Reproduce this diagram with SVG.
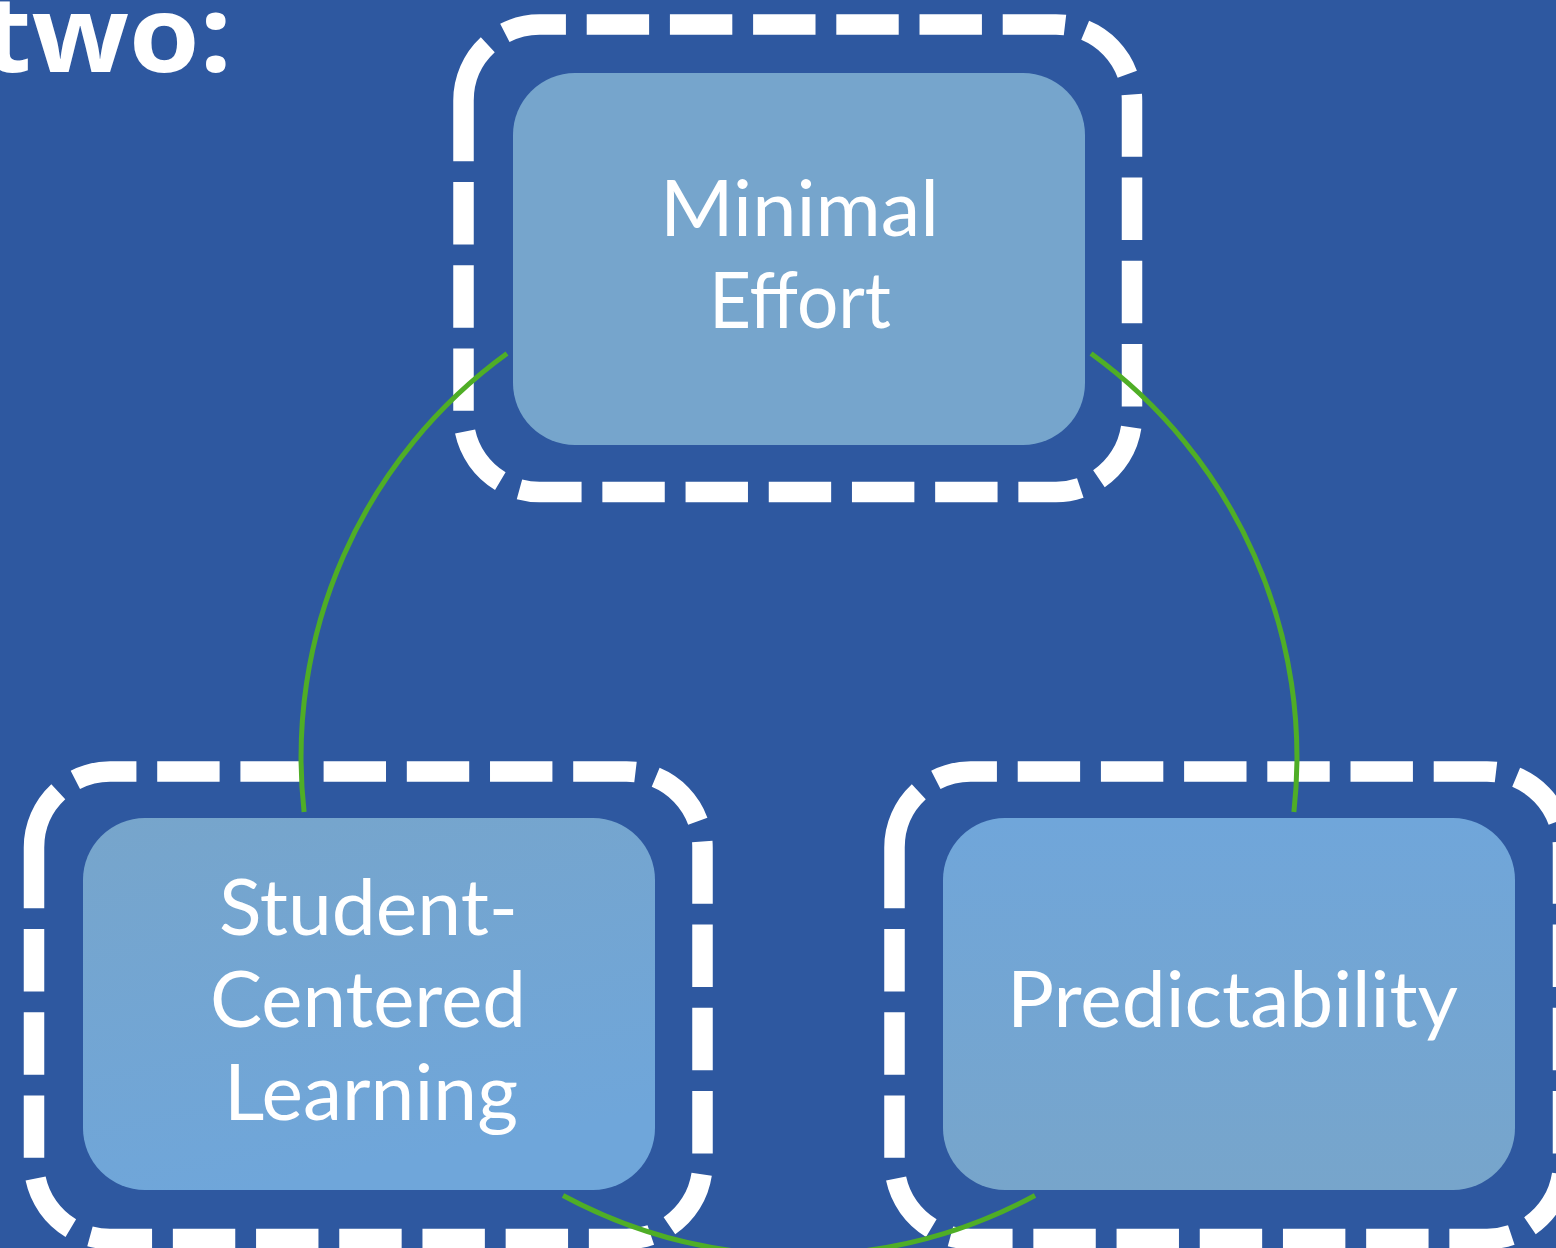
<svg xmlns="http://www.w3.org/2000/svg" width="1556" height="1248" viewBox="0 0 1556 1248">
  <defs>
    <linearGradient id="gStudent" x1="0" y1="0" x2="0.3" y2="1">
      <stop offset="0" stop-color="#77A5CB"/>
      <stop offset="1" stop-color="#6FA6DA"/>
    </linearGradient>
    <linearGradient id="gPred" x1="0" y1="0" x2="0" y2="1">
      <stop offset="0" stop-color="#70A6DA"/>
      <stop offset="1" stop-color="#77A5CB"/>
    </linearGradient>
  </defs>
  <style>
    .frame { fill: none; stroke: #FFFFFF; stroke-width: 20.5; stroke-dasharray: 62.4 20.8; stroke-linecap: butt; }
    .box { stroke: none; }
    .lbl { font-family: Lato, "Open Sans", "Liberation Sans", sans-serif; font-size: 78px; fill: #FFFFFF; text-anchor: middle; }
    .arc { fill: none; stroke: #4FAE26; stroke-width: 5; }
    .title { font-family: "Open Sans", "Liberation Sans", sans-serif; font-weight: 700; font-size: 106px; fill: #FFFFFF; }
  </style>
  <rect x="0" y="0" width="1556" height="1248" fill="#2E58A0"/>
  <text class="title" x="-18" y="72" textLength="250" lengthAdjust="spacingAndGlyphs">two:</text>

  <g id="frames">
    <path class="frame" d="M463.5,100.5 A76,76 0 0 1 539.5,24.5 H1056 A76,76 0 0 1 1132,100.5 V416 A76,76 0 0 1 1056,492 H539.5 A76,76 0 0 1 463.5,416 Z"/>
    <path class="frame" d="M34,847.5 A76,76 0 0 1 110,771.5 H626.5 A76,76 0 0 1 702.5,847.5 V1163 A76,76 0 0 1 626.5,1239 H110 A76,76 0 0 1 34,1163 Z"/>
    <path class="frame" d="M894.5,847.5 A76,76 0 0 1 970.5,771.5 H1487 A76,76 0 0 1 1563,847.5 V1163 A76,76 0 0 1 1487,1239 H970.5 A76,76 0 0 1 894.5,1163 Z"/>
  </g>

  <g id="connectors">
    <path class="arc" d="M 507 353.6 A 498 498 0 0 0 304.1 812"/>
    <path class="arc" d="M 1091 353.6 A 498 498 0 0 1 1293.9 812"/>
    <path class="arc" d="M 563 1195.5 A 498 498 0 0 0 1035 1195.5"/>
  </g>

  <g id="node-minimal-effort">
    <rect class="box" x="513" y="73" width="572" height="372" rx="62" ry="62" fill="#76A5CC"/>
    <text class="lbl" x="799.5" y="236" textLength="279" lengthAdjust="spacingAndGlyphs">Minimal</text>
    <text class="lbl" x="800" y="328" textLength="182" lengthAdjust="spacingAndGlyphs">Effort</text>
  </g>

  <g id="node-student-centered">
    <rect class="box" x="83" y="818" width="572" height="372" rx="62" ry="62" fill="url(#gStudent)"/>
    <text class="lbl" x="368.5" y="935" textLength="299" lengthAdjust="spacingAndGlyphs">Student-</text>
    <text class="lbl" x="368" y="1027" textLength="316" lengthAdjust="spacingAndGlyphs">Centered</text>
    <text class="lbl" x="371" y="1120" textLength="294" lengthAdjust="spacingAndGlyphs">Learning</text>
  </g>

  <g id="node-predictability">
    <rect class="box" x="943" y="818" width="572" height="372" rx="62" ry="62" fill="url(#gPred)"/>
    <text class="lbl" x="1232.5" y="1027" textLength="451" lengthAdjust="spacingAndGlyphs">Predictability</text>
  </g>
</svg>
